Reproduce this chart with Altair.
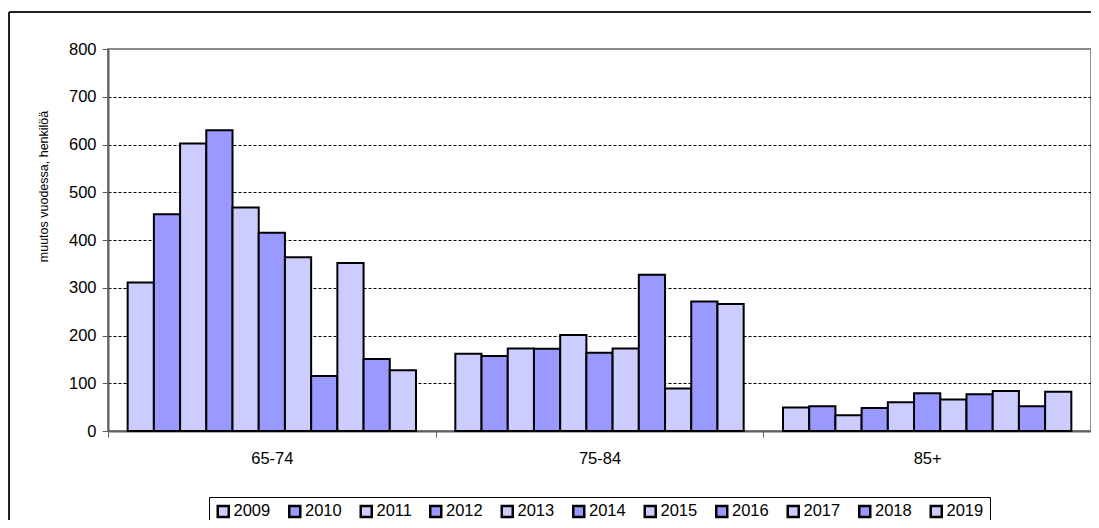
import altair as alt
import pandas as pd

categories = ["65-74", "75-84", "85+"]
years = ["2009", "2010", "2011", "2012", "2013", "2014", "2015", "2016", "2017", "2018", "2019"]
values_65_74 = [311, 454, 602, 630, 468, 415, 364, 115, 352, 151, 127]
values_75_84 = [162, 157, 173, 172, 201, 164, 173, 327, 89, 271, 266]
values_85 = [49, 52, 33, 48, 60, 79, 66, 77, 84, 52, 82]
year_colors = ["#CCCCFF", "#9999FF"] * 5 + ["#CCCCFF"]

rows = []
for cat, vals in zip(categories, [values_65_74, values_75_84, values_85]):
    for y, v in zip(years, vals):
        rows.append({"cat": cat, "year": y, "value": v})
df = pd.DataFrame(rows)

FONT = "Liberation Sans"
FS = 16.5

bars = alt.Chart(df).mark_bar(stroke="black", strokeWidth=2, opacity=1).encode(
    x=alt.X(
        "cat:N",
        sort=categories,
        scale=alt.Scale(paddingInner=0, paddingOuter=0),
        axis=alt.Axis(
            title=None, labelAngle=0, tickBand="extent", tickSize=6,
            tickColor="#606060", domainColor="#606060", domainWidth=2,
            labelFontSize=FS, labelFont=FONT, labelColor="black", labelPadding=13,
        ),
    ),
    xOffset=alt.XOffset("year:N", sort=years, scale=alt.Scale(paddingInner=0, paddingOuter=0.75)),
    y=alt.Y(
        "value:Q",
        scale=alt.Scale(domain=[0, 800], nice=False),
        axis=alt.Axis(
            values=list(range(0, 801, 100)), tickSize=6, tickColor="#606060",
            domainColor="#606060", domainWidth=2,
            labelFontSize=FS, labelFont=FONT, labelColor="black", labelPadding=6,
            grid=True, gridColor="black", gridDash=[3, 2], gridWidth=1,
            gridOpacity={"condition": {"test": "datum.value >= 800 || datum.value <= 0", "value": 0}, "value": 1},
            title="muutos vuodessa, henkilöä", titleFontSize=12.5, titleFont=FONT,
            titleFontWeight="normal", titleColor="black", titleAngle=270,
            titleX=-65, titleY=137, titleAlign="center", titleBaseline="middle",
        ),
    ),
    fill=alt.Fill(
        "year:N",
        sort=years,
        scale=alt.Scale(domain=years, range=year_colors),
        legend=alt.Legend(
            title=None, orient="none", legendX=101, legendY=448,
            direction="horizontal", columns=11, strokeColor="black",
            padding=6, symbolType="square", symbolSize=121,
            symbolStrokeColor="black", symbolStrokeWidth=2.5, symbolOpacity=1,
            labelFontSize=FS, labelFont=FONT, labelColor="black",
            labelOffset=2, columnPadding=12.5,
        ),
    ),
)

frame_data = alt.Data(values=[{}])
frame_top = alt.Chart(frame_data).mark_rule(color="#222222", strokeWidth=2).encode(
    x=alt.value(-99), x2=alt.value(983), y=alt.value(-37)
)
frame_left = alt.Chart(frame_data).mark_rule(color="#222222", strokeWidth=2).encode(
    x=alt.value(-99), y=alt.value(-37), y2=alt.value(800)
)

chart = alt.layer(bars, frame_top, frame_left).properties(
    width=983,
    height=382,
    autosize=alt.AutoSizeParams(type="none"),
    padding={"left": 100, "top": 41, "right": 0, "bottom": 89},
).configure_view(
    stroke="#8c8c8c", strokeWidth=2
)

chart.save("out.html", embed_options={"renderer": "svg", "actions": False})
